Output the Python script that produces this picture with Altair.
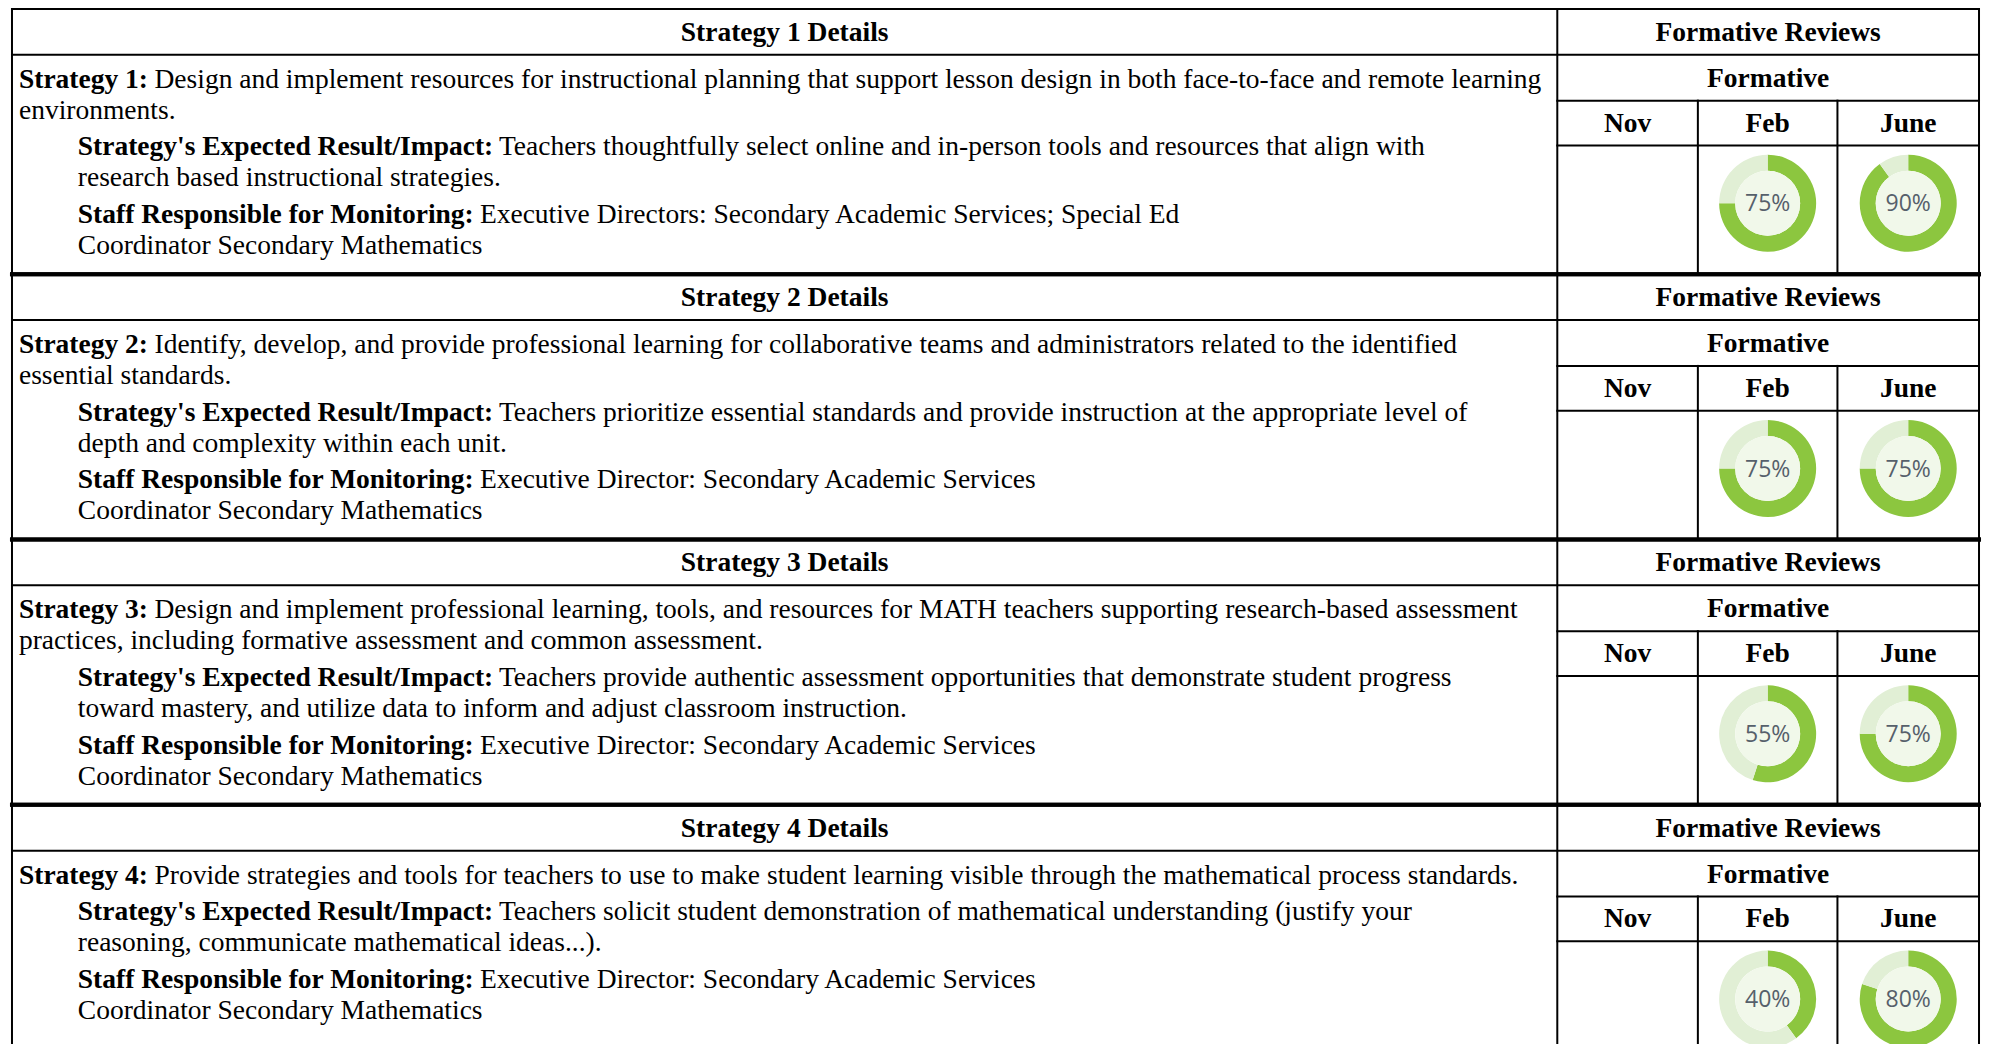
import altair as alt
import pandas as pd

# ---------------- data ----------------
block_titles = ["Strategy 1 Details", "Strategy 2 Details", "Strategy 3 Details", "Strategy 4 Details"]
review_title = "Formative Reviews"
review_subtitle = "Formative"
months = ["Nov", "Feb", "June"]

strategy_labels = ["Strategy 1:", "Strategy 2:", "Strategy 3:", "Strategy 4:"]
strategy_text = [
    ["Design and implement resources for instructional planning that support lesson design in both face-to-face and remote learning",
     "environments."],
    ["Identify, develop, and provide professional learning for collaborative teams and administrators related to the identified",
     "essential standards."],
    ["Design and implement professional learning, tools, and resources for MATH teachers supporting research-based assessment",
     "practices, including formative assessment and common assessment."],
    ["Provide strategies and tools for teachers to use to make student learning visible through the mathematical process standards."],
]
impact_label = "Strategy's Expected Result/Impact:"
impact_text = [
    ["Teachers thoughtfully select online and in-person tools and resources that align with",
     "research based instructional strategies."],
    ["Teachers prioritize essential standards and provide instruction at the appropriate level of",
     "depth and complexity within each unit."],
    ["Teachers provide authentic assessment opportunities that demonstrate student progress",
     "toward mastery, and utilize data to inform and adjust classroom instruction."],
    ["Teachers solicit student demonstration of mathematical understanding (justify your",
     "reasoning, communicate mathematical ideas...)."],
]
staff_label = "Staff Responsible for Monitoring:"
staff_text = [
    ["Executive Directors: Secondary Academic Services; Special Ed", "Coordinator Secondary Mathematics"],
    ["Executive Director: Secondary Academic Services", "Coordinator Secondary Mathematics"],
    ["Executive Director: Secondary Academic Services", "Coordinator Secondary Mathematics"],
    ["Executive Director: Secondary Academic Services", "Coordinator Secondary Mathematics"],
]
nov_values = [None, None, None, None]
feb_values = [75, 75, 55, 40]
june_values = [90, 75, 75, 80]

# ---------------- style / layout ----------------
SERIF = "Liberation Serif"
FS = 27.5
GREEN = "#8cc63f"
TRACK = "#e1efd5"
INNER = "#f1f8ea"
PCT_COLOR = "#56606b"

W, H = 1974, 1036
XS = alt.Scale(domain=[8, 1988], nice=False, zero=False)
YS = alt.Scale(domain=[4, 1044], nice=False, zero=False, reverse=True)

X_LEFT, X_DIV, X_RIGHT = 12, 1562, 1985
MONTH_EDGES = [1562, 1703, 1843, 1985]
BLOCK_H = 266.3
BLOCK_TOP0 = 5
HEAD_H, FORM_H, MONTH_H = 46, 46, 45
TEXT_X, INDENT_X = 19, 78
LINE_STEP, PARA_STEP = 31, 37
FIRST_BASE = 79

# Times-Bold advance widths (1/1000 em) used to place text after bold labels
BOLD_W = {" ": 250, "'": 278, "/": 278, ":": 333, "1": 500, "2": 500, "3": 500, "4": 500,
          "E": 667, "I": 389, "M": 944, "R": 722, "S": 556,
          "a": 500, "b": 556, "c": 444, "d": 556, "e": 444, "f": 333, "g": 500, "i": 278,
          "l": 278, "m": 833, "n": 556, "o": 500, "p": 556, "r": 444, "s": 389, "t": 333,
          "u": 556, "x": 500, "y": 500}
SPACE_W = 250


def bold_width(s):
    return sum(BOLD_W.get(c, 500) for c in s) * FS / 1000.0


rules, heads, bolds, normals, donuts, discs = [], [], [], [], [], []
for b in range(len(block_titles)):
    top = BLOCK_TOP0 + b * BLOCK_H
    bot = top + BLOCK_H
    r_form = top + HEAD_H
    r_month = r_form + FORM_H
    r_cell = r_month + MONTH_H
    rules += [
        dict(x=X_LEFT, x2=X_RIGHT, y=top, y2=top, w=2 if b == 0 else 4),
        dict(x=X_LEFT, x2=X_RIGHT, y=r_form, y2=r_form, w=2),
        dict(x=X_DIV, x2=X_RIGHT, y=r_month, y2=r_month, w=2),
        dict(x=X_DIV, x2=X_RIGHT, y=r_cell, y2=r_cell, w=2),
        dict(x=X_LEFT, x2=X_LEFT, y=top, y2=bot, w=2),
        dict(x=X_DIV, x2=X_DIV, y=top, y2=bot, w=2),
        dict(x=X_RIGHT, x2=X_RIGHT, y=top, y2=bot, w=2),
    ]
    for xe in MONTH_EDGES[1:-1]:
        rules.append(dict(x=xe, x2=xe, y=r_month, y2=bot, w=2))
    rules.append(dict(x=X_LEFT, x2=X_RIGHT, y=bot, y2=bot, w=4))

    # header texts
    heads.append(dict(x=(X_LEFT + X_DIV) / 2, y=top + 32, t=block_titles[b]))
    heads.append(dict(x=(X_DIV + X_RIGHT) / 2, y=top + 32, t=review_title))
    heads.append(dict(x=(X_DIV + X_RIGHT) / 2, y=r_form + 32, t=review_subtitle))
    for m, month in enumerate(months):
        cx = (MONTH_EDGES[m] + MONTH_EDGES[m + 1]) / 2
        heads.append(dict(x=cx, y=r_month + 31, t=month))

    # paragraphs
    y = top + FIRST_BASE
    paras = [(strategy_labels[b], strategy_text[b], TEXT_X),
             (impact_label, impact_text[b], INDENT_X),
             (staff_label, staff_text[b], INDENT_X)]
    for p, (label, lines, px) in enumerate(paras):
        if p > 0:
            y += PARA_STEP
        bolds.append(dict(x=px, y=y, t=label))
        normals.append(dict(x=px + bold_width(label) + SPACE_W * FS / 1000.0, y=y, t=lines[0]))
        for ln in lines[1:]:
            y += LINE_STEP
            normals.append(dict(x=px, y=y, t=ln))

    # donuts
    cy = top + 195
    for m, vals in enumerate([nov_values, feb_values, june_values]):
        v = vals[b]
        if v is None:
            continue
        cx = (MONTH_EDGES[m] + MONTH_EDGES[m + 1]) / 2
        did = f"{b}-{m}"
        donuts.append(dict(id=did, cx=cx, cy=cy, part="done", ord=0, v=v))
        donuts.append(dict(id=did, cx=cx, cy=cy, part="rest", ord=1, v=100 - v))
        discs.append(dict(cx=cx, cy=cy, v=v))

rules_df = pd.DataFrame(rules)
heads_df = pd.DataFrame(heads)
bolds_df = pd.DataFrame(bolds)
normals_df = pd.DataFrame(normals)
donut_df = pd.DataFrame(donuts)
disc_df = pd.DataFrame(discs)

xq = lambda f: alt.X(f, scale=XS, axis=None)
yq = lambda f: alt.Y(f, scale=YS, axis=None)

rule_layer = alt.Chart(rules_df).mark_rule(color="black", strokeCap="square").encode(
    x=xq("x:Q"), x2="x2:Q", y=yq("y:Q"), y2="y2:Q",
    strokeWidth=alt.StrokeWidth("w:Q", scale=None, legend=None),
)

arc_layer = alt.Chart(donut_df).transform_stack(
    stack="v", groupby=["id"], as_=["t0", "t1"], sort=[alt.SortField("ord", order="ascending")]
).mark_arc(radius=48.5, radius2=32.5).encode(
    x=xq("cx:Q"), y=yq("cy:Q"),
    theta=alt.Theta("t0:Q", scale=alt.Scale(domain=[0, 100], range=[0, 6.283185307179586])),
    theta2="t1:Q",
    color=alt.Color("part:N", scale=alt.Scale(domain=["done", "rest"], range=[GREEN, TRACK]), legend=None),
)

disc_layer = alt.Chart(disc_df).mark_circle(size=65 * 65, color=INNER, opacity=1).encode(
    x=xq("cx:Q"), y=yq("cy:Q"),
)

pct_layer = alt.Chart(disc_df).transform_calculate(lab="datum.v + '%'").mark_text(
    font="Open Sans", fontSize=23, color=PCT_COLOR, align="center", baseline="middle", dy=1
).encode(x=xq("cx:Q"), y=yq("cy:Q"), text="lab:N")

head_layer = alt.Chart(heads_df).mark_text(
    font=SERIF, fontSize=FS, fontWeight="bold", color="black", align="center", baseline="alphabetic"
).encode(x=xq("x:Q"), y=yq("y:Q"), text="t:N")

bold_layer = alt.Chart(bolds_df).mark_text(
    font=SERIF, fontSize=FS, fontWeight="bold", color="black", align="left", baseline="alphabetic"
).encode(x=xq("x:Q"), y=yq("y:Q"), text="t:N")

normal_layer = alt.Chart(normals_df).mark_text(
    font=SERIF, fontSize=FS, color="black", align="left", baseline="alphabetic"
).encode(x=xq("x:Q"), y=yq("y:Q"), text="t:N")

chart = alt.layer(
    arc_layer, disc_layer, pct_layer, rule_layer, head_layer, bold_layer, normal_layer
).properties(
    width=W, height=H, padding=0, autosize=alt.AutoSizeParams(type="none"), background="white"
).configure_view(stroke=None)

chart.save("out.html", embed_options={"renderer": "svg", "actions": False})
